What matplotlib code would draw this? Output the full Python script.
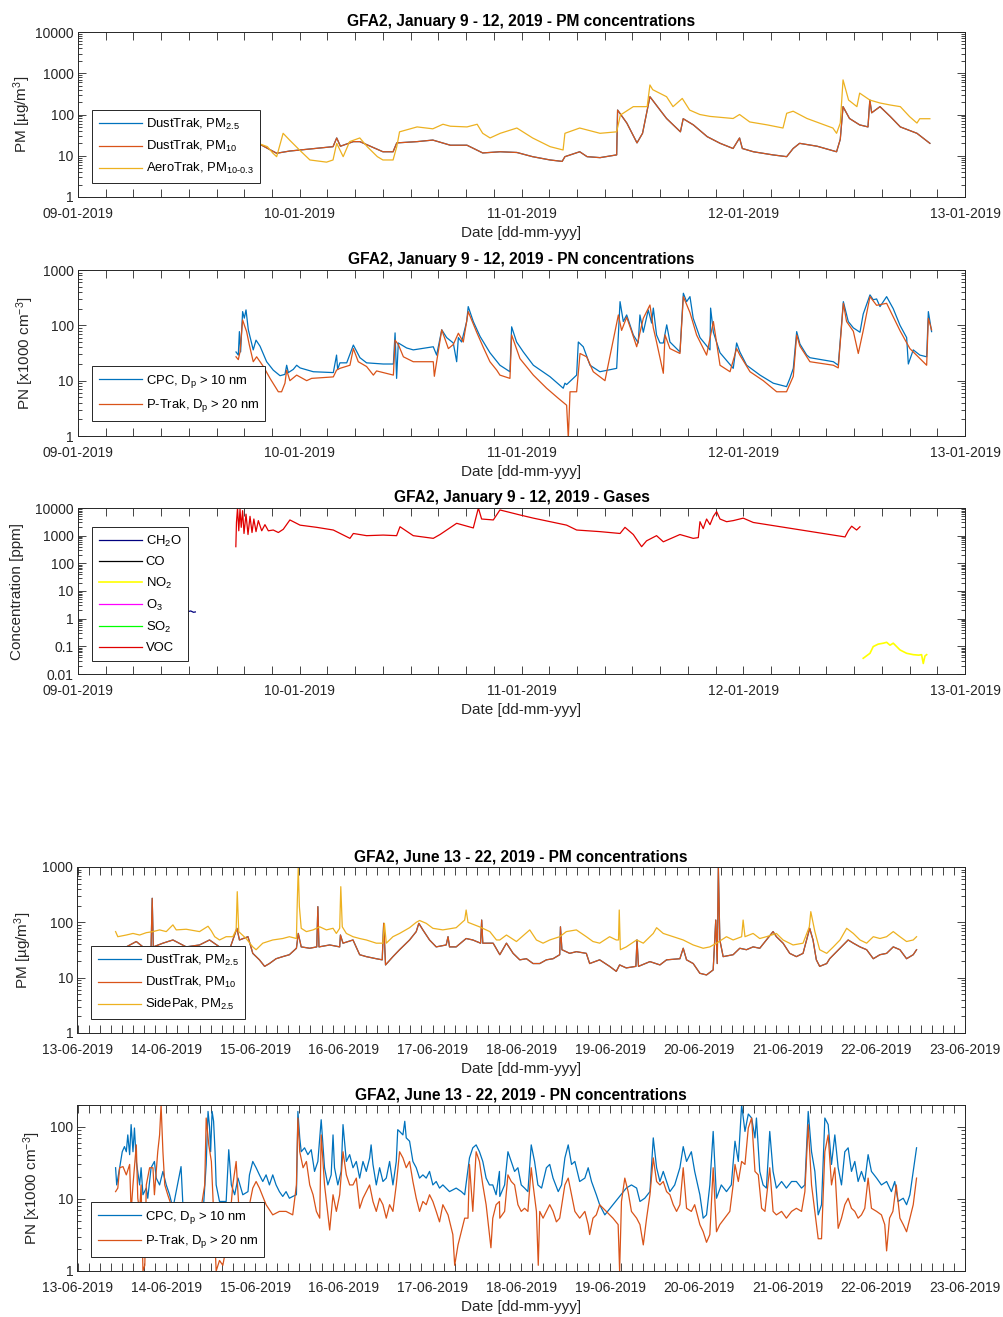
import numpy as np
import matplotlib
matplotlib.use('Agg')
import matplotlib.pyplot as plt
import matplotlib.dates as mdates
from matplotlib.ticker import LogLocator, FuncFormatter, NullFormatter

plt.rcParams['font.family'] = ['Liberation Sans', 'DejaVu Sans']
plt.rcParams['mathtext.fontset'] = 'custom'
plt.rcParams['mathtext.rm'] = 'Liberation Sans'
plt.rcParams['mathtext.it'] = 'Liberation Sans:italic'
plt.rcParams['mathtext.bf'] = 'Liberation Sans:bold'

# ---------------- January campaign (hours after 09-01-2019 00:00) ----------------
jan_dt_hours = [17.1, 19.5, 21.5, 22.9, 25.0, 27.6, 28.0, 28.4, 29.8, 30.5, 33.0, 34.1, 34.5,
                36.7, 38.4, 40.3, 42.1, 43.8, 45.7, 47.5, 49.2, 51.1, 52.4, 52.7, 54.3, 55.1,
                56.5, 58.3, 58.4, 59.4, 60.5, 61.1, 61.9, 63.0, 63.7, 65.2, 65.5, 66.6, 68.1,
                69.5, 70.9, 71.6, 71.9, 73.1, 75.2, 76.7, 77.4, 78.1, 80.0, 82.1, 82.5, 82.8,
                83.5, 84.6, 85.5, 85.7, 85.9, 86.8, 87.9, 89.0, 90.8, 92.2]
jan_dt_pm10 = [20, 20, 11.5, 13, 14.5, 16.6, 27, 17, 22, 22, 12.5, 12.5, 20.5,
               22, 24, 18, 18, 11.7, 12.5, 12, 9.5, 7.9, 7.3, 9.5, 12.5, 9.5,
               9, 10.5, 128, 62, 20.5, 35, 270, 128, 80, 38, 79, 56, 29,
               20, 15, 27, 15, 12.5, 10.5, 9.5, 15, 20, 17, 12.5, 25, 155,
               80, 56, 50, 224, 110, 155, 90, 50, 35, 20]
# PM2.5 readings sit on top of the PM10 trace over the whole run
jan_dt_pm25 = [20, 20, 11.5, 13, 14.5, 16.6, 27, 17, 22, 22, 12.5, 12.5, 20.5,
               22, 24, 18, 18, 11.7, 12.5, 12, 9.5, 7.9, 7.3, 9.5, 12.5, 9.5,
               9, 10.5, 128, 62, 20.5, 35, 270, 128, 80, 38, 79, 56, 29,
               20, 15, 27, 15, 12.5, 10.5, 9.5, 15, 20, 17, 12.5, 25, 155,
               80, 56, 50, 224, 110, 155, 90, 50, 35, 20]

jan_aero_hours = [17.1, 19.5, 20.5, 21.1, 21.5, 22.2, 22.9, 24.0, 25.1, 26.9, 27.6, 28.0, 28.7,
                  29.4, 30.5, 31.3, 32.4, 33.0, 34.1, 34.5, 34.8, 36.7, 38.4, 39.5, 40.3, 42.1,
                  43.2, 43.8, 44.6, 45.7, 47.5, 49.2, 51.1, 52.5, 52.7, 54.3, 56.5, 58.3, 58.7,
                  60.1, 61.6, 61.9, 62.2, 63.7, 64.4, 65.4, 66.2, 67.3, 68.4, 70.9, 71.6, 72.7,
                  74.6, 76.3, 76.7, 77.4, 78.9, 81.7, 82.1, 82.5, 82.8, 83.4, 84.3, 84.6, 85.7,
                  86.8, 87.9, 89.0, 90.0, 90.8, 91.1, 92.2]
jan_aero_pm = [22, 20, 16.6, 11.5, 9.5, 35, 24, 13.6, 7.9, 7, 7.9, 20, 9.5,
               22, 27, 16.6, 9.5, 7.9, 7.9, 16.6, 38, 50, 45, 58, 52, 50,
               58, 35, 27, 35, 47, 27, 16.6, 13.8, 35, 47, 35, 38, 97,
               155, 155, 520, 400, 270, 155, 245, 128, 100, 90, 80, 100, 66,
               56, 47, 107, 120, 80, 47, 35, 62, 690, 224, 155, 330, 224,
               190, 170, 155, 89, 62, 79, 79]

jan_cpc_hours = [17.1, 17.35, 17.46, 17.6, 17.82, 18.0, 18.18, 18.43, 18.97, 19.26, 19.7, 20.42,
                 21.14, 21.86, 22.4, 22.58, 22.76, 23.3, 23.66, 24.03, 25.47, 27.63, 27.99, 28.1,
                 28.35, 29.08, 29.8, 30.52, 31.24, 33.04, 34.13, 34.31, 34.49, 34.67, 35.57,
                 36.29, 38.45, 38.82, 39.36, 39.9, 40.62, 40.98, 41.16, 41.52, 42.06, 42.24,
                 42.78, 43.51, 44.59, 45.67, 46.75, 46.93, 47.47, 48.2, 49.28, 51.08, 52.52,
                 52.7, 52.89, 53.97, 54.15, 54.69, 55.41, 56.49, 58.3, 58.66, 59.02, 59.38,
                 60.1, 60.64, 60.82, 61.18, 61.72, 62.08, 62.26, 62.62, 62.99, 63.35, 63.71,
                 64.07, 65.15, 65.51, 65.87, 66.23, 66.59, 67.31, 68.4, 68.47, 68.76, 69.48,
                 70.92, 71.28, 71.64, 72.37, 73.81, 75.25, 76.69, 77.05, 77.42, 77.78, 78.14,
                 78.86, 79.22, 81.75, 82.29, 82.83, 83.37, 83.91, 84.63, 84.99, 85.71, 86.07,
                 86.44, 86.8, 87.52, 88.24, 88.96, 89.68, 89.86, 90.4, 91.12, 91.85, 92.03, 92.39]
jan_cpc = [33, 29, 77, 33, 177, 135, 190, 83, 36, 54, 42, 22,
           15.5, 12.3, 13, 19, 14, 16, 19, 17, 14.5, 14, 29, 16,
           21, 21, 44, 26, 21, 20, 20, 73, 11, 48, 39,
           36, 41, 29, 83, 60, 48, 22, 60, 50, 117, 218,
           117, 63, 32, 19, 14.5, 94, 50, 33, 19, 11.8, 7.3,
           9, 8.5, 12.6, 50, 41, 19, 14.5, 16.7, 268, 117, 154,
           67, 48, 154, 75, 190, 110, 205, 67, 48, 48, 102,
           50, 33, 380, 268, 330, 134, 60, 36, 205, 75, 32,
           16.7, 48, 33, 19, 12.6, 9, 7.8, 11, 16.7, 77, 46,
           29, 26, 22, 19, 268, 117, 90, 75, 160, 355, 290,
           300, 218, 330, 200, 100, 60, 20, 36, 29, 27, 177, 77]

jan_ptrak_hours = [17.1, 17.35, 17.53, 17.82, 18.07, 18.25, 18.54, 18.97, 19.34, 20.06, 20.78,
                   21.68, 22.04, 22.4, 22.58, 22.94, 23.66, 24.75, 25.29, 27.63, 27.99, 28.35,
                   29.44, 29.8, 30.34, 31.24, 31.96, 32.32, 34.13, 34.31, 34.67, 35.21, 36.29,
                   38.45, 38.56, 38.82, 39.36, 40.08, 40.62, 41.16, 41.7, 42.24, 43.15, 43.86,
                   44.59, 45.31, 45.67, 46.75, 46.93, 47.83, 49.28, 50.72, 51.98, 52.89, 53.07,
                   53.25, 53.97, 54.33, 55.05, 55.77, 57.03, 58.48, 58.84, 59.38, 59.92, 60.46,
                   61.18, 61.9, 62.26, 62.62, 63.35, 63.53, 64.07, 65.15, 65.51, 66.23, 66.95,
                   68.04, 68.76, 69.48, 70.56, 71.28, 71.64, 72.73, 74.17, 75.61, 76.69, 77.42,
                   77.78, 78.14, 79.22, 81.75, 82.29, 82.83, 83.19, 83.91, 84.45, 84.99, 85.71,
                   86.44, 87.52, 88.96, 90.04, 91.85, 92.03, 92.39]
jan_ptrak = [27, 24, 33, 125, 94, 77, 45, 22, 27, 18, 11,
             6.3, 6.3, 9, 15.5, 10, 12.6, 10, 11, 11.7, 15.5, 16.7,
             19, 38, 22, 18, 12.6, 15, 12.6, 54, 45, 27, 22,
             22, 12, 22, 83, 38, 45, 72, 50, 177, 75, 40,
             22, 15.5, 12.6, 11, 67, 25, 12.6, 7.3, 4.8, 3.6, 0.9,
             6.3, 6.3, 31, 27, 14.5, 10, 154, 81, 140, 78, 41,
             134, 233, 90, 50, 13.6, 67, 38, 31, 330, 170, 67,
             29, 117, 19, 14.5, 38, 29, 14.5, 10, 6.3, 6.3, 12,
             67, 42, 22, 19, 17, 250, 117, 78, 31, 80, 330,
             230, 250, 80, 38, 19, 134, 83]

jan_ch2o_hours = [8.0, 9.5, 11.0, 11.9, 12.2, 12.5, 12.7]
jan_ch2o = [1.8, 1.9, 1.75, 1.8, 1.9, 1.7, 1.75]
jan_co_hours, jan_co = [], []
jan_o3_hours, jan_o3 = [], []
jan_so2_hours, jan_so2 = [], []
jan_no2_hours = [84.99, 85.71, 86.07, 86.6, 87.16, 87.52, 87.88, 88.24, 88.96, 89.68, 90.4,
                 91.0, 91.3, 91.49, 91.67, 91.85]
jan_no2 = [0.037, 0.056, 0.098, 0.12, 0.13, 0.14, 0.11, 0.13, 0.074, 0.056, 0.05,
           0.048, 0.05, 0.024, 0.045, 0.05]
jan_voc_hours = [17.08, 17.15, 17.26, 17.4, 17.53, 17.67, 17.82, 17.96, 18.18, 18.4, 18.61,
                 18.83, 19.04, 19.26, 19.52, 19.88, 20.24, 20.6, 21.14, 21.68, 22.22, 22.94,
                 24.03, 25.83, 27.63, 29.44, 29.8, 31.24, 33.04, 34.49, 34.85, 36.29, 38.45,
                 39.18, 40.98, 42.78, 43.33, 43.69, 44.95, 45.67, 47.83, 49.28, 52.89, 53.97,
                 56.49, 58.66, 59.2, 60.1, 61.0, 61.54, 62.62, 63.35, 65.15, 66.59, 67.13,
                 67.31, 67.67, 68.04, 68.4, 68.76, 69.12, 69.48, 70.2, 70.92, 72.0, 73.09,
                 83.01, 83.37, 83.73, 84.27, 84.63]
jan_voc = [400, 3000, 10000, 1500, 9000, 2000, 8000, 1200, 6000, 1100, 5000,
           1300, 4000, 1400, 3500, 1500, 2500, 1500, 1600, 1300, 1700, 3700,
           2400, 2000, 1600, 800, 1200, 1000, 1050, 1000, 2100, 1000, 800,
           1100, 2800, 1900, 10000, 4000, 3700, 8500, 5600, 4300, 2400, 1600,
           1400, 1200, 2000, 1100, 400, 650, 1000, 600, 1100, 800, 850,
           3200, 1800, 4000, 2500, 5000, 7400, 4000, 3200, 3500, 4300, 3000,
           900, 1500, 2200, 1600, 2100]

# ---------------- June campaign (hours after 13-06-2019 00:00) ----------------
jun_side_hours = [10.3, 10.9, 13.2, 15.0, 16.8, 18.6, 20.4, 22.2, 24.0, 24.9, 25.8, 26.7, 29.4,
                  33.0, 35.3, 36.2, 37.1, 38.4, 40.2, 42.0, 42.9, 43.2, 43.6, 45.6, 47.4, 48.3,
                  50.1, 52.8, 55.5, 57.3, 59.2, 59.4, 59.7, 60.0, 60.5, 61.9, 63.7, 65.5, 67.3,
                  69.1, 70.0, 70.9, 71.2, 71.6, 72.7, 74.5, 76.3, 78.1, 80.8, 82.6, 83.0, 83.5,
                  85.3, 87.1, 89.8, 91.6, 92.5, 94.3, 96.1, 98.8, 102.4, 104.7, 105.1, 105.6,
                  108.7, 111.5, 113.3, 114.2, 116.0, 118.7, 122.3, 124.1, 125.9, 127.7, 130.4,
                  132.2, 134.9, 137.6, 139.4, 141.2, 143.9, 145.7, 146.3, 146.5, 146.8, 148.4,
                  151.2, 153.0, 155.7, 156.6, 158.4, 161.1, 163.8, 166.5, 169.2, 171.0, 172.8,
                  175.5, 177.3, 179.6, 180.0, 180.5, 182.7, 184.5, 186.3, 189.0, 190.8, 193.5,
                  196.2, 197.9, 198.3, 199.4, 200.7, 202.6, 204.4, 206.2, 208.0, 209.8, 211.6,
                  213.4, 215.2, 217.0, 218.8, 220.6, 222.4, 224.2, 226.0, 226.9]
jun_side_pm25 = [68, 55, 59, 63, 59, 65, 68, 73, 68, 78, 90, 73, 75,
                 68, 85, 70, 55, 48, 55, 55, 73, 358, 68, 51, 36, 32,
                 42, 48, 51, 55, 51, 192, 1000, 192, 78, 68, 73, 83, 73,
                 78, 63, 78, 441, 83, 63, 55, 51, 48, 42, 42, 96, 42,
                 55, 63, 80, 100, 108, 96, 78, 73, 80, 110, 167, 100,
                 83, 68, 48, 48, 59, 45, 73, 48, 42, 48, 55,
                 68, 73, 55, 45, 42, 55, 48, 48, 167, 32, 36,
                 48, 42, 63, 80, 63, 55, 48, 39, 34, 36, 42,
                 55, 48, 55, 110, 55, 63, 51, 55, 63, 48, 39,
                 42, 83, 156, 68, 32, 27.5, 36, 48, 78, 63, 48,
                 42, 55, 51, 55, 68, 55, 45, 48, 55]

jun_dt_hours = [10.3, 13.2, 15.9, 17.7, 19.9, 20.2, 20.5, 23.1, 25.8, 29.4, 33.0, 35.7, 38.4,
                41.1, 43.1, 43.8, 46.1, 47.4, 49.2, 50.6, 51.9, 53.7, 55.5, 57.3, 59.2, 59.7,
                60.5, 62.8, 64.7, 65.0, 65.3, 68.2, 70.9, 71.1, 71.8, 74.5, 76.3, 78.1, 80.8,
                82.4, 82.8, 83.3, 85.3, 87.1, 89.8, 91.6, 92.3, 93.4, 95.2, 97.0, 99.7, 100.2,
                100.6, 102.4, 105.1, 106.9, 109.0, 109.3, 109.6, 112.4, 114.2, 116.0, 117.8,
                119.6, 121.4, 123.2, 125.0, 126.8, 128.6, 130.4, 130.6, 131.0, 133.1, 134.9,
                137.6, 138.5, 141.2, 143.9, 145.7, 146.6, 148.4, 151.0, 151.3, 151.7, 154.8,
                157.5, 159.3, 162.9, 163.8, 164.7, 166.5, 168.3, 170.1, 171.9, 172.6, 173.0,
                173.3, 173.7, 174.6, 177.3, 179.1, 180.9, 182.7, 184.5, 186.3, 188.1, 189.0,
                190.8, 192.6, 194.4, 196.2, 198.0, 198.9, 199.8, 200.7, 202.6, 203.4, 208.4,
                209.8, 211.6, 213.4, 215.2, 217.0, 218.8, 220.6, 222.4, 224.2, 226.0, 226.9]
jun_dt_pm10 = [31.6, 36, 45, 36, 36, 272, 36, 42, 48, 36, 39, 48, 36,
               32, 78, 48, 55, 27.5, 21, 16, 18, 22, 24, 26, 34, 63,
               36, 34, 36, 192, 36, 39, 36, 59, 42, 48, 26, 24, 22,
               21, 96, 17, 24, 32, 48, 68, 96, 73, 48, 36, 39, 55,
               36, 36, 51, 48, 42, 110, 42, 42, 26, 42, 27.5,
               21, 22, 18, 18, 21, 22, 26, 83, 32, 27.5, 29.5,
               27.5, 18, 21, 16, 13, 17, 15, 16, 48, 16, 19.5,
               17, 21, 22, 34, 21, 18, 12, 11.2, 13.8, 110, 18,
               1000, 48, 24, 26, 34, 32, 36, 34, 48, 68, 55,
               42, 27.5, 24, 27.5, 78, 48, 21, 16, 18, 22, 48,
               42, 36, 32, 22, 26, 27.5, 36, 32, 22, 26, 32]
# DustTrak PM2.5 lies under the PM10 trace throughout
jun_dt_pm25 = [31.6, 36, 45, 36, 36, 272, 36, 42, 48, 36, 39, 48, 36,
               32, 78, 48, 55, 27.5, 21, 16, 18, 22, 24, 26, 34, 63,
               36, 34, 36, 192, 36, 39, 36, 59, 42, 48, 26, 24, 22,
               21, 96, 17, 24, 32, 48, 68, 96, 73, 48, 36, 39, 55,
               36, 36, 51, 48, 42, 110, 42, 42, 26, 42, 27.5,
               21, 22, 18, 18, 21, 22, 26, 83, 32, 27.5, 29.5,
               27.5, 18, 21, 16, 13, 17, 15, 16, 48, 16, 19.5,
               17, 21, 22, 34, 21, 18, 12, 11.2, 13.8, 110, 18,
               1000, 48, 24, 26, 34, 32, 36, 34, 48, 68, 55,
               42, 27.5, 24, 27.5, 78, 48, 21, 16, 18, 22, 48,
               42, 36, 32, 22, 26, 27.5, 36, 32, 22, 26, 32]

jun_cpc_hours = [10.3, 10.6, 11.4, 12.1, 12.7, 13.2, 13.6, 14.1, 14.5, 15.0, 15.4, 15.9, 16.8,
                 17.2, 17.7, 18.6, 19.0, 19.9, 20.8, 21.3, 22.2, 23.1, 24.0, 24.9, 25.8, 28.0,
                 28.5, 30.3, 33.0, 34.1, 34.8, 35.3, 35.7, 36.0, 36.4, 36.8, 37.2, 37.5, 38.4,
                 40.2, 40.9, 41.6, 42.5, 43.4, 44.7, 46.1, 46.5, 47.4, 48.3, 49.2, 50.1, 51.0,
                 51.9, 52.8, 53.7, 54.6, 55.5, 56.4, 57.3, 58.2, 59.2, 59.6, 60.1, 60.5, 61.4,
                 62.3, 63.2, 64.1, 65.0, 65.9, 66.8, 67.7, 68.6, 69.1, 69.5, 70.4, 71.3, 71.8,
                 72.7, 73.6, 74.5, 75.4, 76.3, 77.2, 78.1, 79.0, 79.4, 79.9, 80.8, 81.7, 82.6,
                 83.5, 84.4, 85.3, 86.2, 86.6, 87.1, 88.0, 88.5, 88.9, 89.8, 90.7, 91.6, 92.5,
                 93.4, 94.3, 95.2, 96.1, 97.0, 97.9, 98.8, 100.6, 102.4, 103.8, 104.7, 106.0,
                 106.9, 107.8, 108.7, 109.6, 110.5, 111.4, 112.3, 113.2, 114.1, 114.2, 115.5,
                 116.4, 117.3, 118.2, 119.1, 120.0, 120.9, 121.8, 122.7, 123.6, 124.5, 125.5,
                 126.8, 127.7, 128.6, 130.0, 130.9, 131.8, 132.7, 133.6, 134.5, 135.8, 137.2,
                 138.1, 139.0, 140.3, 141.2, 142.6, 148.4, 149.8, 151.2, 152.1, 153.4, 154.8,
                 155.7, 156.6, 157.5, 158.4, 159.3, 160.2, 161.5, 162.9, 163.8, 164.7, 166.0,
                 166.9, 168.3, 169.2, 170.1, 171.0, 171.9, 172.8, 174.1, 175.5, 176.8, 177.8,
                 178.7, 179.6, 180.5, 181.4, 182.3, 183.2, 183.6, 184.5, 185.4, 186.3, 187.2,
                 188.1, 189.0, 190.4, 191.7, 193.1, 194.4, 195.8, 196.7, 197.6, 198.5, 199.4,
                 200.3, 201.2, 202.1, 203.0, 203.9, 204.8, 205.7, 206.6, 207.5, 208.4, 209.3,
                 210.2, 211.1, 212.0, 212.9, 213.8, 214.7, 216.1, 217.4, 218.8, 220.1, 221.0,
                 221.9, 223.3, 224.2, 225.1, 226.0, 226.9]
jun_cpc = [27, 15.6, 27, 45, 53, 45, 77, 41, 107, 45, 96, 33, 15.6,
           27, 11.4, 14.1, 10.2, 27, 33, 19.4, 15.6, 24, 15.6, 11.4, 7.4, 28,
           8.3, 8.3, 8.3, 8.3, 30, 163, 101, 45, 163, 119, 45, 15.6, 9.2,
           9.2, 48, 15.6, 11.4, 19.4, 11.4, 12.6, 21.5, 33, 27, 21.5, 17.4, 21.5,
           15.6, 21.5, 15.6, 12.6, 10.8, 12.6, 10.2, 10.8, 11.4, 163, 70, 45, 51,
           41, 48, 24, 33, 125, 27, 15.6, 21.5, 77, 27, 15.6, 24, 107,
           33, 41, 27, 33, 19.4, 33, 24, 37, 56, 30, 15.6, 27, 17.4,
           19.4, 33, 15.6, 33, 91, 86, 77, 119, 70, 63, 33, 27, 19.4,
           21.5, 19.4, 24, 15.6, 17.4, 14.1, 15.6, 12.6, 14.1, 12.6, 11.4, 37,
           51, 56, 45, 33, 19.4, 15.6, 15.6, 11.4, 24, 10.8, 15.6,
           45, 33, 24, 27, 15.6, 14.1, 12.6, 56, 33, 15.6, 14.1,
           27, 30, 19.4, 12.6, 15.6, 37, 56, 30, 33, 17.4, 19.4,
           27, 17.4, 11.4, 8.3, 6.0, 14.1, 15.6, 14.1, 9.2, 10.2, 12.6,
           70, 27, 17.4, 24, 17.4, 12.6, 15.6, 27, 53, 33, 45,
           24, 11.4, 5.4, 6.0, 15.6, 86, 10.2, 15.6, 12.6, 15.6, 63,
           33, 202, 86, 150, 132, 70, 132, 24, 15.6, 14.1, 86,
           24, 14.1, 17.4, 14.1, 17.4, 17.4, 14.1, 15.6, 163, 45, 24,
           6.0, 8.3, 132, 107, 30, 77, 27, 15.6, 45, 51, 24,
           33, 17.4, 24, 17.4, 41, 24, 19.4, 15.6, 17.4, 12.6, 17.4,
           9.2, 10.2, 8.3, 11.4, 24, 51]

jun_ptrak_hours = [10.3, 10.9, 11.4, 12.3, 13.2, 14.1, 14.5, 15.0, 15.9, 16.3, 16.8, 17.2, 17.7,
                   18.2, 18.6, 19.5, 20.4, 20.8, 21.7, 22.2, 22.6, 23.1, 23.6, 24.4, 25.3, 26.7,
                   28.5, 31.2, 33.0, 34.4, 34.8, 35.5, 36.2, 36.6, 37.1, 37.5, 38.4, 39.3, 40.2,
                   41.1, 42.0, 42.9, 43.8, 44.7, 45.6, 46.5, 47.4, 48.3, 49.2, 51.0, 52.8, 54.6,
                   56.4, 58.2, 59.2, 59.6, 60.1, 61.0, 61.9, 62.8, 63.7, 64.6, 65.5, 65.9, 66.8,
                   68.2, 69.1, 70.0, 70.9, 71.8, 72.7, 73.6, 74.5, 75.4, 76.3, 77.2, 78.1, 79.0,
                   79.9, 80.8, 81.7, 82.6, 83.5, 84.4, 85.3, 86.2, 87.1, 88.0, 88.9, 89.8, 90.7,
                   91.6, 92.5, 93.4, 94.3, 95.2, 96.1, 97.0, 97.9, 98.8, 100.2, 101.5, 102.0,
                   102.9, 103.8, 104.7, 105.6, 106.0, 106.9, 107.8, 108.7, 109.6, 110.5, 111.4,
                   111.8, 112.3, 113.2, 114.1, 114.2, 115.5, 116.4, 117.3, 118.2, 119.1, 120.0,
                   120.9, 121.8, 122.7, 123.2, 124.1, 124.6, 125.0, 125.9, 126.8, 127.7, 128.6,
                   129.5, 130.4, 131.8, 132.7, 133.6, 134.5, 135.8, 137.2, 138.1, 138.5, 139.4,
                   140.3, 141.2, 143.0, 144.8, 146.2, 146.6, 147.1, 148.0, 148.9, 149.8, 151.2,
                   152.1, 153.0, 153.9, 154.8, 155.7, 156.6, 157.5, 158.4, 159.3, 160.2, 161.1,
                   162.0, 162.9, 163.8, 164.7, 166.0, 166.9, 168.3, 169.2, 170.1, 171.0, 171.9,
                   172.8, 173.7, 175.0, 176.4, 177.3, 177.8, 178.7, 179.6, 180.5, 181.4, 182.3,
                   183.2, 184.1, 185.0, 185.9, 187.2, 188.1, 189.0, 190.4, 191.7, 193.1, 194.4,
                   195.8, 196.7, 197.6, 198.5, 199.4, 200.3, 201.2, 202.1, 203.0, 203.9, 204.8,
                   205.7, 206.6, 207.5, 208.4, 209.3, 210.2, 211.1, 212.0, 212.9, 213.8, 214.7,
                   216.1, 217.4, 218.3, 218.8, 219.6, 220.5, 221.4, 222.4, 223.3, 224.2, 225.1,
                   226.0, 226.9]
jun_ptrak = [12.6, 14.1, 27, 28, 21.5, 30, 6.7, 15.6, 56, 10.2, 6.7, 15.6, 1.0,
             1.2, 15.6, 27, 27, 11.4, 45, 77, 202, 45, 15.6, 11.4, 8.3, 6.7,
             5.4, 4.4, 5.4, 15.6, 132, 56, 33, 11.4, 3.2, 1.0, 1.4, 1.2, 2.1,
             4.4, 15.6, 33, 5.4, 6.7, 4.4, 8.3, 14.1, 17.4, 14.1, 8.3, 6.0, 6.7,
             6.7, 6.0, 15.6, 132, 45, 27, 33, 15.6, 11.4, 6.7, 5.4, 77, 15.6,
             3.7, 11.4, 6.7, 11.4, 45, 21.5, 15.6, 15.6, 19.4, 7.4, 10.2, 12.6, 15.6,
             9.2, 6.7, 10.2, 8.3, 5.4, 8.3, 6.7, 15.6, 45, 37, 27, 33, 17.4,
             10.2, 6.7, 9.2, 8.3, 11.4, 9.2, 6.7, 4.8, 8.3, 6.0, 3.2, 1.2,
             2.3, 3.5, 5.4, 5.4, 30, 6.7, 45, 33, 15.6, 8.3, 3.2,
             2.1, 5.4, 8.3, 9.2, 5.4, 6.7, 21.5, 17.4, 15.6, 8.3, 6.7,
             7.4, 6.7, 27, 15.6, 6.7, 1.2, 6.7, 5.4, 6.7, 8.3, 6.7,
             4.8, 5.4, 15.6, 19.4, 11.4, 6.7, 5.4, 6.7, 4.4, 3.2, 5.4,
             6.0, 8.3, 6.7, 5.4, 4.4, 1.0, 9.2, 19.4, 12.6, 6.7, 5.4,
             4.4, 2.3, 5.4, 11.4, 37, 17.4, 15.6, 17.4, 12.6, 11.4, 8.3,
             6.7, 8.3, 27, 7.4, 6.7, 8.3, 4.4, 3.5, 2.5, 3.2, 27,
             3.5, 4.4, 5.4, 6.7, 15.6, 30, 17.4, 33, 30, 96, 132,
             24, 21.5, 7.4, 6.7, 27, 6.7, 6.0, 6.7, 5.4, 6.7, 7.4,
             6.7, 12.6, 107, 15.6, 6.7, 2.8, 2.8, 45, 77, 15.6, 27,
             3.9, 5.4, 8.3, 10.2, 7.4, 6.7, 5.4, 6.0, 7.4, 19.4, 7.4,
             6.7, 6.0, 4.4, 1.9, 5.4, 6.7, 15.6, 5.4, 4.4, 3.5, 5.4,
             8.3, 19.4]

# ---------------- styling ----------------
C_BLUE = '#0072BD'
C_ORANGE = '#D95319'
C_YELLOW = '#EDB120'
AX_COLOR = '#262626'
LW = 0.9

FIG_W, FIG_H = 1004, 1317


def times(start, hours):
    minutes = np.round(np.asarray(hours, dtype=float) * 60).astype(int)
    return np.datetime64(start) + minutes.astype('timedelta64[m]')


def make_axes(fig, left, top, right, bottom):
    return fig.add_axes([left / FIG_W, 1 - bottom / FIG_H,
                         (right - left) / FIG_W, (bottom - top) / FIG_H])


def style(ax, start, end, ylim, title, ylabel, ylabel_x):
    ax.set_yscale('log')
    ax.set_ylim(*ylim)
    ax.set_xlim(np.datetime64(start), np.datetime64(end))
    ax.xaxis.set_major_locator(mdates.DayLocator())
    ax.xaxis.set_major_formatter(mdates.DateFormatter('%d-%m-%Y'))
    ax.xaxis.set_minor_locator(mdates.HourLocator(byhour=range(3, 24, 3)))
    ax.yaxis.set_major_locator(LogLocator(base=10, numticks=20))
    ax.yaxis.set_minor_locator(LogLocator(base=10, subs=np.arange(2, 10), numticks=100))
    ax.yaxis.set_major_formatter(FuncFormatter(lambda v, p: '%g' % v))
    ax.yaxis.set_minor_formatter(NullFormatter())
    ax.tick_params(which='both', direction='in', top=True, right=True,
                   colors=AX_COLOR, labelsize=10, width=0.6)
    ax.tick_params(axis='x', which='both', length=6, pad=7)
    ax.tick_params(axis='y', which='major', length=6, pad=3)
    ax.tick_params(axis='y', which='minor', length=3)
    for s in ax.spines.values():
        s.set_color(AX_COLOR)
        s.set_linewidth(0.7)
    ax.set_title(title, fontsize=11.2, fontweight='bold', pad=4)
    ax.set_xlabel('Date [dd-mm-yyy]', fontsize=11, color=AX_COLOR, labelpad=4)
    ax.set_ylabel(ylabel, fontsize=11, color=AX_COLOR)
    ax.yaxis.set_label_coords(ylabel_x, 0.5)


def legend(ax, x0, y0, spacing=0.6):
    leg = ax.legend(loc='lower left', bbox_to_anchor=(x0, y0), borderaxespad=0,
                    fontsize=9.4, frameon=True, fancybox=False, edgecolor=AX_COLOR,
                    framealpha=1, handlelength=3.3, handletextpad=0.3,
                    labelspacing=spacing, borderpad=0.5)
    leg.get_frame().set_linewidth(0.7)
    return leg


fig = plt.figure(figsize=(FIG_W / 100, FIG_H / 100), dpi=100)

JAN0, JAN1 = '2019-01-09T00:00', '2019-01-13T00:00'
JUN0, JUN1 = '2019-06-13T00:00', '2019-06-23T00:00'

# --- January PM ---
ax1 = make_axes(fig, 78, 32, 965, 197)
ax1.plot(times(JAN0, jan_dt_hours), jan_dt_pm25, color=C_BLUE, lw=LW, label='DustTrak, PM$_{2.5}$')
ax1.plot(times(JAN0, jan_dt_hours), jan_dt_pm10, color=C_ORANGE, lw=LW, label='DustTrak, PM$_{10}$')
ax1.plot(times(JAN0, jan_aero_hours), jan_aero_pm, color=C_YELLOW, lw=LW, label='AeroTrak, PM$_{10\u20100.3}$')
style(ax1, JAN0, JAN1, (1, 10000), 'GFA2, January 9 - 12, 2019 - PM concentrations',
      'PM [\u00b5g/m$^3$]', (33 - 78) / 887)
legend(ax1, (92 - 78) / 887, (197 - 183) / 165, spacing=0.55)

# --- January PN ---
ax2 = make_axes(fig, 78, 270, 965, 436)
ax2.plot(times(JAN0, jan_cpc_hours), jan_cpc, color=C_BLUE, lw=LW, label='CPC, D$_\\mathrm{p}$ > 10 nm')
ax2.plot(times(JAN0, jan_ptrak_hours), jan_ptrak, color=C_ORANGE, lw=LW, label='P-Trak, D$_\\mathrm{p}$ > 20 nm')
style(ax2, JAN0, JAN1, (1, 1000), 'GFA2, January 9 - 12, 2019 - PN concentrations',
      'PN [x1000 cm$^{-3}$]', (36 - 78) / 887)
legend(ax2, (92 - 78) / 887, (436 - 421) / 166)

# --- January gases ---
ax3 = make_axes(fig, 78, 508, 965, 674)
ax3.plot(times(JAN0, jan_ch2o_hours), jan_ch2o, color='#00007F', lw=LW, label='CH$_2$O')
ax3.plot(times(JAN0, jan_co_hours), jan_co, color='black', lw=LW, label='CO')
ax3.plot(times(JAN0, jan_no2_hours), jan_no2, color='#FFFF00', lw=1.2, label='NO$_2$')
ax3.plot(times(JAN0, jan_o3_hours), jan_o3, color='#FF00FF', lw=LW, label='O$_3$')
ax3.plot(times(JAN0, jan_so2_hours), jan_so2, color='#00FF00', lw=LW, label='SO$_2$')
ax3.plot(times(JAN0, jan_voc_hours), jan_voc, color='#E00000', lw=LW, label='VOC')
style(ax3, JAN0, JAN1, (0.01, 10000), 'GFA2, January 9 - 12, 2019 - Gases',
      'Concentration [ppm]', (24 - 78) / 887)
legend(ax3, (92 - 78) / 887, (674 - 661) / 166, spacing=0.55)

# --- June PM ---
ax4 = make_axes(fig, 77.5, 867, 965, 1033)
ax4.plot(times(JUN0, jun_dt_hours), jun_dt_pm25, color=C_BLUE, lw=LW, label='DustTrak, PM$_{2.5}$')
ax4.plot(times(JUN0, jun_dt_hours), jun_dt_pm10, color=C_ORANGE, lw=LW, label='DustTrak, PM$_{10}$')
ax4.plot(times(JUN0, jun_side_hours), jun_side_pm25, color=C_YELLOW, lw=LW, label='SidePak, PM$_{2.5}$')
style(ax4, JUN0, JUN1, (1, 1000), 'GFA2, June 13 - 22, 2019 - PM concentrations',
      'PM [\u00b5g/m$^3$]', (34 - 77.5) / 887.5)
legend(ax4, (91 - 77.5) / 887.5, (1033 - 1019) / 166, spacing=0.55)

# --- June PN ---
ax5 = make_axes(fig, 77.5, 1105, 965, 1271)
ax5.plot(times(JUN0, jun_cpc_hours), jun_cpc, color=C_BLUE, lw=LW, label='CPC, D$_\\mathrm{p}$ > 10 nm')
ax5.plot(times(JUN0, jun_ptrak_hours), jun_ptrak, color=C_ORANGE, lw=LW, label='P-Trak, D$_\\mathrm{p}$ > 20 nm')
style(ax5, JUN0, JUN1, (1, 200), 'GFA2, June 13 - 22, 2019 - PN concentrations',
      'PN [x1000 cm$^{-3}$]', (43 - 77.5) / 887.5)
legend(ax5, (91 - 77.5) / 887.5, (1271 - 1257) / 166)

fig.savefig('out.png', dpi=100)
